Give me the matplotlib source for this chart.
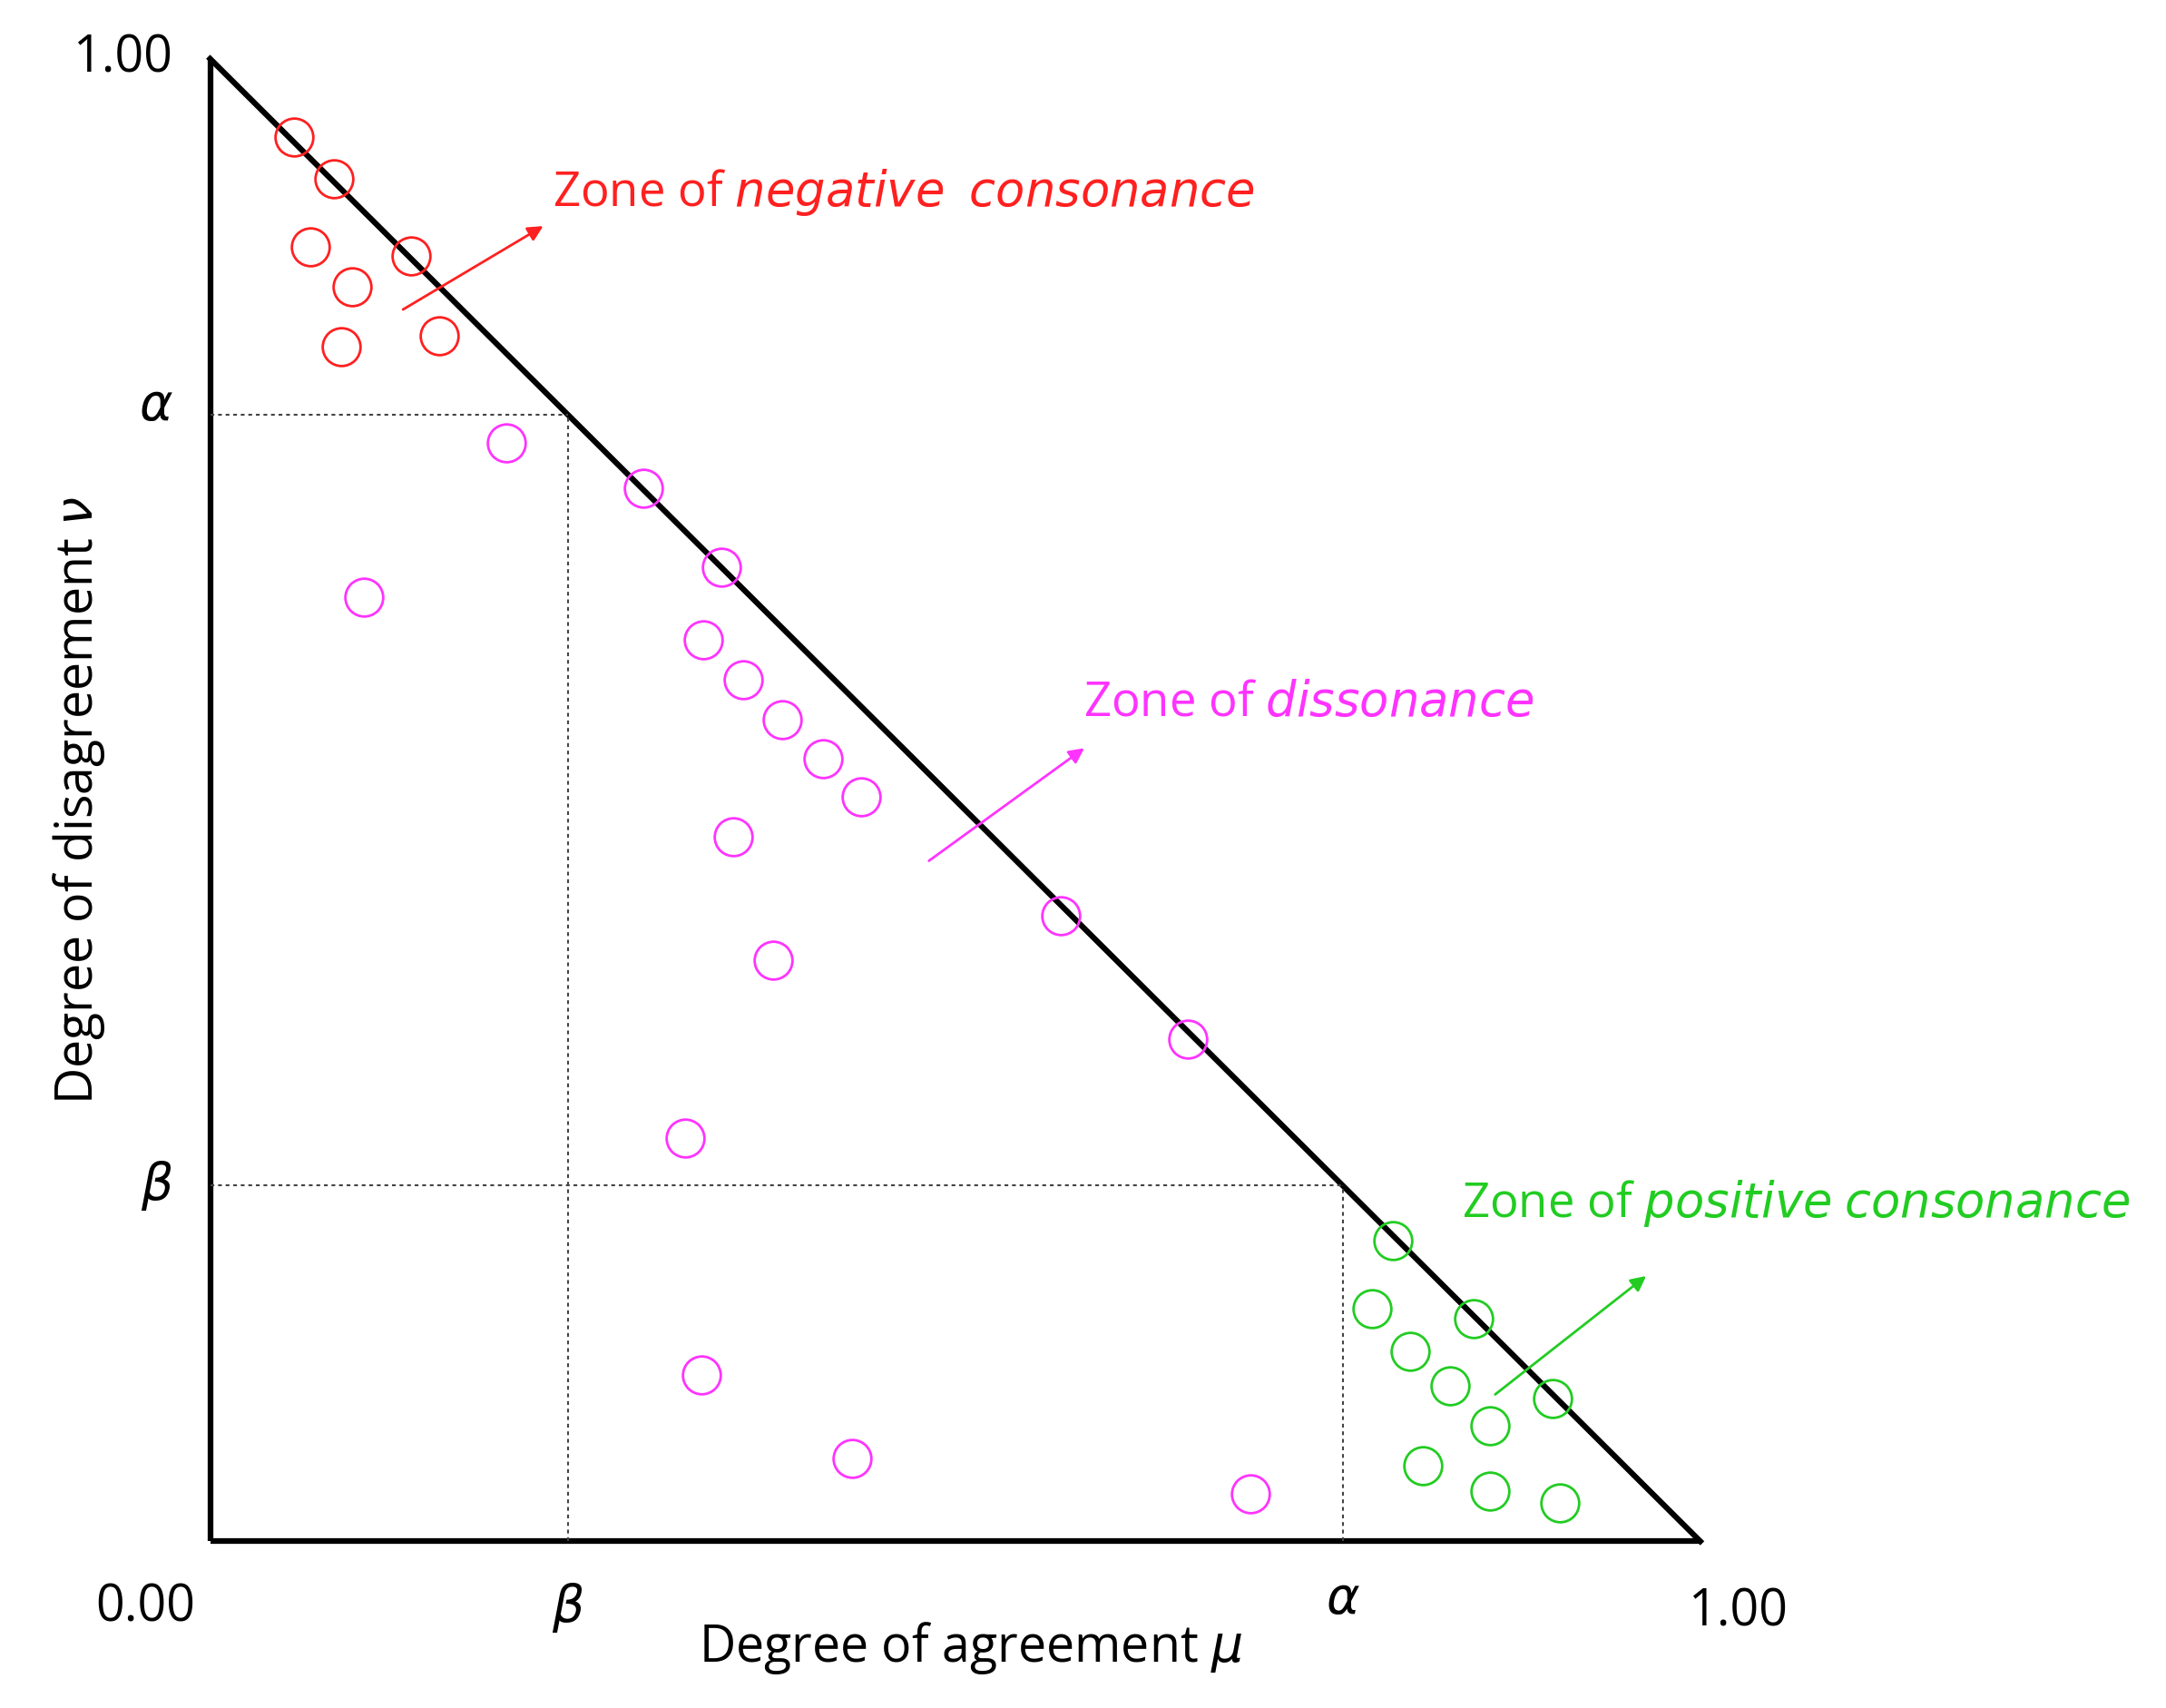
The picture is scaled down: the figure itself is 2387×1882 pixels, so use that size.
import matplotlib.pyplot as plt

plt.rcParams['font.family'] = ['Open Sans', 'DejaVu Sans']

alpha = 0.76
beta = 0.24

neg_x = [0.056, 0.083, 0.067, 0.095, 0.135, 0.088, 0.154]
neg_y = [0.947, 0.919, 0.873, 0.846, 0.867, 0.806, 0.813]

dis_x = [0.199, 0.291, 0.103, 0.343, 0.331, 0.358, 0.384, 0.411, 0.437, 0.351,
         0.571, 0.378, 0.656, 0.319, 0.330, 0.431, 0.698]
dis_y = [0.741, 0.710, 0.637, 0.657, 0.608, 0.581, 0.554, 0.528, 0.502, 0.475,
         0.422, 0.392, 0.339, 0.272, 0.112, 0.056, 0.032]

pos_x = [0.794, 0.780, 0.848, 0.805, 0.832, 0.901, 0.859, 0.814, 0.859, 0.906]
pos_y = [0.203, 0.157, 0.150, 0.128, 0.105, 0.096, 0.078, 0.051, 0.034, 0.026]

red = '#ff2020'
mag = '#ff33ff'
grn = '#22cc22'

fig = plt.figure(figsize=(23.87, 18.82), dpi=100)
ax = fig.add_axes([0.097, 0.0976, 0.688, 0.868])
ax.set_xlim(0, 1)
ax.set_ylim(0, 1)
ax.axis('off')

# triangle
ax.plot([0, 1], [0, 0], color='black', lw=4.5, clip_on=False, solid_capstyle='butt')
ax.plot([0, 0], [0, 1], color='black', lw=4.5, clip_on=False, solid_capstyle='butt')
ax.plot([0, 1], [1, 0], color='black', lw=4.5, clip_on=False)

# threshold lines
dash = dict(color='#444444', lw=1.5, ls=(0, (2, 2)))
ax.plot([0, 1 - alpha], [alpha, alpha], **dash)
ax.plot([beta, beta], [0, alpha], **dash)
ax.plot([0, 1 - beta], [beta, beta], **dash)
ax.plot([alpha, alpha], [0, beta], **dash)

mk = dict(ls='none', marker='o', ms=30, mfc='none', mew=2, clip_on=False)
ax.plot(neg_x, neg_y, mec=red, **mk)
ax.plot(dis_x, dis_y, mec=mag, **mk)
ax.plot(pos_x, pos_y, mec=grn, **mk)

# arrows and zone labels
def arrow(x0, y0, x1, y1, c):
    ax.annotate('', xy=(x1, y1), xytext=(x0, y0), annotation_clip=False,
                arrowprops=dict(arrowstyle='-|>', color=c, lw=2, mutation_scale=25))

arrow(0.128, 0.830, 0.225, 0.888, red)
arrow(0.481, 0.458, 0.588, 0.536, mag)
arrow(0.861, 0.098, 0.965, 0.180, grn)

fs = 38
ax.text(0.230, 0.910, r'Zone of $\it{negative}$  $\it{consonance}$', color=red, fontsize=fs, va='center', clip_on=False)
ax.text(0.586, 0.565, r'Zone of $\it{dissonance}$', color=mag, fontsize=fs, va='center', clip_on=False)
ax.text(0.840, 0.228, r'Zone of $\it{positive}$ $\it{consonance}$', color=grn, fontsize=fs, va='center', clip_on=False)

# tick labels
tfs = 40
ax.text(-0.025, 1.0, '1.00', fontsize=tfs, ha='right', va='center')
ax.text(-0.025, alpha + 0.005, r'$\alpha$', fontsize=40, ha='right', va='center')
ax.text(-0.025, beta, r'$\beta$', fontsize=40, ha='right', va='center')
ax.text(-0.01, -0.045, '0.00', fontsize=tfs, ha='right', va='center')
ax.text(beta, -0.045, r'$\beta$', fontsize=40, ha='center', va='center')
ax.text(alpha, -0.04, r'$\alpha$', fontsize=40, ha='center', va='center')
ax.text(1.025, -0.048, '1.00', fontsize=tfs, ha='center', va='center')

ax.text(0.51, -0.072, r'Degree of agreement $\mu$', fontsize=tfs, ha='center', va='center')
ax.text(-0.088, 0.5, r'Degree of disagreement $\nu$', fontsize=tfs, ha='center', va='center', rotation=90)

fig.savefig('out.png')
